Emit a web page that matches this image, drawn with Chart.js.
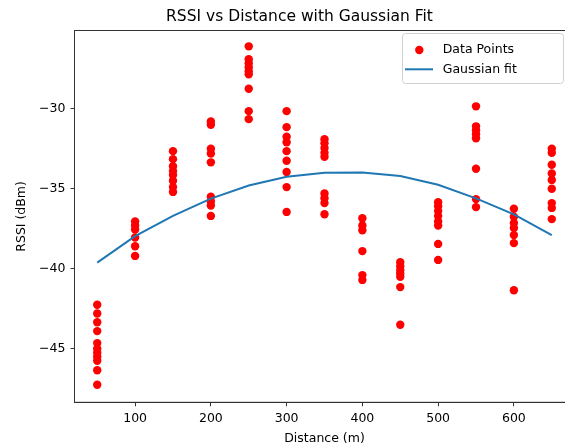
<!DOCTYPE html>
<html>
<head>
<meta charset="utf-8">
<script src="https://cdn.jsdelivr.net/npm/chart.js@4"></script>
<style>
html,body{margin:0;padding:0;overflow:hidden;background:#fff;width:565px;height:448px;}
#wrap{width:565px;height:448px;overflow:hidden;position:relative;}
#c{position:absolute;left:0;top:0;}
</style>
</head>
<body>
<div id="wrap"><canvas id="c" width="599" height="448"></canvas></div>
<script>
// ---- data ----
const distances = [50, 100, 150, 200, 250, 300, 350, 400, 450, 500, 550, 600, 650];
const rssi050 = [-42.25, -42.8, -43.35, -43.9, -44.65, -45.0, -45.25, -45.5, -45.75, -46.35, -47.25];
const rssi100 = [-37.05, -37.3, -37.55, -38.05, -38.6, -39.2];
const rssi150 = [-32.65, -33.15, -33.6, -33.9, -34.15, -34.5, -34.9, -35.2];
const rssi200 = [-30.8, -31.0, -32.5, -32.8, -33.35, -35.5, -35.8, -36.05, -36.7];
const rssi250 = [-26.1, -26.9, -27.15, -27.4, -27.65, -27.85, -28.75, -30.15, -30.65];
const rssi300 = [-30.15, -31.15, -31.75, -32.1, -32.65, -33.25, -33.95, -34.9, -36.45];
const rssi350 = [-31.9, -32.15, -32.45, -32.75, -33.0, -35.3, -35.6, -35.9, -36.6];
const rssi400 = [-36.85, -37.3, -37.6, -38.9, -40.4, -40.7];
const rssi450 = [-39.6, -39.85, -40.1, -40.3, -40.5, -41.15, -43.5];
const rssi500 = [-35.85, -36.1, -36.4, -36.7, -37.05, -37.3, -38.45, -39.45];
const rssi550 = [-29.85, -31.1, -31.35, -31.6, -31.85, -33.75, -35.65, -36.15];
const rssi600 = [-36.25, -36.75, -37.15, -37.45, -37.9, -38.4, -41.35];
const rssi650 = [-32.5, -32.75, -33.5, -34.05, -34.45, -35.0, -35.9, -36.2, -36.9];
const fitValues = [-39.62, -37.96, -36.7, -35.62, -34.8, -34.25, -34.0, -33.98, -34.2, -34.75, -35.6, -36.6, -37.9];
const xTicks = [100, 200, 300, 400, 500, 600];
const yTicks = [-45, -40, -35, -30];

const rssiGroups = [rssi050, rssi100, rssi150, rssi200, rssi250, rssi300, rssi350,
                    rssi400, rssi450, rssi500, rssi550, rssi600, rssi650];
const scatterData = [];
rssiGroups.forEach((g, i) => g.forEach(v => scatterData.push({x: distances[i], y: v})));
const fitData = distances.map((d, i) => ({x: d, y: fitValues[i]}));

const FONT = "'DejaVu Sans', sans-serif";
const minus = v => String(v).replace('-', '\u2212');

const framePlugin = {
  id: 'frame',
  beforeDatasetsDraw(chart) {
    const a = chart.chartArea, ctx = chart.ctx;
    ctx.save();
    ctx.strokeStyle = '#333';
    ctx.lineWidth = 1;
    ctx.strokeRect(a.left, a.top, a.right - a.left, a.bottom - a.top);
    ctx.restore();
  }
};

const legendPlugin = {
  id: 'mplLegend',
  afterDraw(chart) {
    const ctx = chart.ctx;
    const dsPts = chart.data.datasets[1], dsLine = chart.data.datasets[0];
    ctx.save();
    const x = 402.5, y = 33.5, w = 161, h = 50, r = 3;
    ctx.beginPath();
    ctx.roundRect(x, y, w, h, r);
    ctx.fillStyle = 'rgba(255,255,255,0.8)';
    ctx.fill();
    ctx.strokeStyle = '#d0d0d0';
    ctx.lineWidth = 1;
    ctx.stroke();
    ctx.font = '12.5px ' + FONT;
    ctx.textBaseline = 'middle';
    ctx.textAlign = 'left';
    ctx.beginPath();
    ctx.arc(419.3, 50, 4.2, 0, Math.PI * 2);
    ctx.fillStyle = dsPts.backgroundColor;
    ctx.fill();
    ctx.fillStyle = '#000';
    ctx.fillText(dsPts.label, 442.7, 50);
    ctx.beginPath();
    ctx.moveTo(405, 69.3);
    ctx.lineTo(433, 69.3);
    ctx.strokeStyle = dsLine.borderColor;
    ctx.lineWidth = 2;
    ctx.stroke();
    ctx.fillText(dsLine.label, 442.7, 69.3);
    ctx.restore();
  }
};

new Chart(document.getElementById('c'), {
  type: 'scatter',
  data: {
    datasets: [
      {
        type: 'line',
        label: 'Gaussian fit',
        data: fitData,
        borderColor: '#1f77b4',
        backgroundColor: '#1f77b4',
        borderWidth: 2,
        pointRadius: 0,
        tension: 0,
        fill: false,
        order: 0
      },
      {
        type: 'scatter',
        label: 'Data Points',
        data: scatterData,
        backgroundColor: '#ff0000',
        borderColor: '#ff0000',
        borderWidth: 0,
        pointRadius: 4.2,
        order: 1
      }
    ]
  },
  options: {
    responsive: false,
    animation: false,
    devicePixelRatio: 1,
    events: [],
    layout: {padding: 0},
    plugins: {
      legend: {display: false},
      tooltip: {enabled: false},
      title: {
        display: true,
        text: 'RSSI vs Distance with Gaussian Fit',
        color: '#000',
        font: {family: FONT, size: 15.5, weight: 'normal', lineHeight: 1.2},
        padding: {top: 7.2, bottom: 4.7}
      }
    },
    scales: {
      x: {
        type: 'linear',
        min: 20, max: 680,
        afterBuildTicks: s => { s.ticks = xTicks.map(v => ({value: v})); },
        afterFit: s => { s.height = 45.7; },
        grid: {display: true, drawOnChartArea: false, tickLength: 4, color: '#333', lineWidth: 1},
        border: {display: true, color: '#333', width: 1},
        ticks: {color: '#000', font: {family: FONT, size: 12.5}, padding: 4.5, maxRotation: 0},
        title: {display: true, text: 'Distance (m)', color: '#000',
                font: {family: FONT, size: 12.5, lineHeight: 1.2}, padding: {top: 0, bottom: 1.5}}
      },
      y: {
        type: 'linear',
        min: -48.35, max: -25.11,
        afterBuildTicks: s => { s.ticks = yTicks.map(v => ({value: v})); },
        afterFit: s => { s.width = 74.5; },
        grid: {display: true, drawOnChartArea: false, tickLength: 4, color: '#333', lineWidth: 1},
        border: {display: true, color: '#333', width: 1},
        ticks: {color: '#000', font: {family: FONT, size: 12.5}, padding: 5, callback: v => minus(v)},
        title: {display: true, text: 'RSSI (dBm)', color: '#000',
                font: {family: FONT, size: 12.5, lineHeight: 1.2}, padding: {top: 14.5, bottom: 0}}
      },
      yRight: {
        type: 'linear',
        position: 'right',
        min: -48.35, max: -25.11,
        afterFit: s => { s.width = 24.5; },
        grid: {display: false},
        border: {display: false},
        ticks: {display: false}
      }
    }
  },
  plugins: [framePlugin, legendPlugin]
});
</script>
</body>
</html>
